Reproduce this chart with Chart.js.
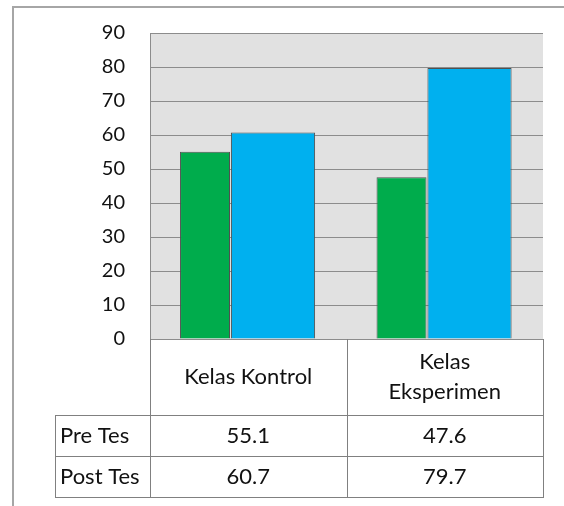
<!DOCTYPE html>
<html>
<head>
<meta charset="utf-8">
<script src="https://cdn.jsdelivr.net/npm/chart.js@4"></script>
<style>
  html, body { margin: 0; padding: 0; background: #fff; }
  #wrap { position: relative; width: 564px; height: 506px; }
  #frame { position: absolute; left: 12px; top: 6px; width: 560px; height: 510px;
           border-left: 2px solid #a6a6a6; border-top: 2px solid #a6a6a6; box-sizing: border-box; }
  canvas { position: absolute; left: 0; top: 0; }
</style>
</head>
<body>
<div id="wrap">
  <div id="frame"></div>
  <canvas id="c" width="564" height="506"></canvas>
</div>
<script>
const categories = [['Kelas Kontrol'], ['Kelas', 'Eksperimen']];
const seriesNames = ['Pre Tes', 'Post Tes'];
const preTes = [55.1, 47.6];
const postTes = [60.7, 79.7];
const yMin = 0, yMax = 90, yStep = 10;

const FONT = 'Lato, "Open Sans", sans-serif';

const tablePlugin = {
  id: 'tablePlugin',
  beforeDraw(chart) {
    const { ctx, chartArea: a } = chart;
    ctx.save();
    ctx.fillStyle = '#e1e1e1';
    ctx.fillRect(a.left, a.top, a.right - a.left, a.bottom - a.top);
    ctx.restore();
  },
  afterDraw(chart) {
    const { ctx, chartArea: a } = chart;
    const xs = chart.scales.x;
    const n = categories.length;
    const catW = (a.right - a.left) / n;
    const rowCat = 76, rowH = 41;
    const tableLeft = 55;
    const top = a.bottom;
    const y1 = top + rowCat;
    const rows = [preTes, postTes];
    const bottom = y1 + rowH * rows.length;
    ctx.save();
    ctx.strokeStyle = '#808080';
    ctx.lineWidth = 1;
    ctx.beginPath();
    for (let i = 0; i <= n; i++) {
      const x = Math.round(a.left + catW * i) + 0.5;
      ctx.moveTo(x, top); ctx.lineTo(x, bottom);
    }
    ctx.moveTo(tableLeft + 0.5, y1); ctx.lineTo(tableLeft + 0.5, bottom);
    for (let r = 0; r <= rows.length; r++) {
      const y = Math.round(y1 + rowH * r) + 0.5;
      ctx.moveTo(tableLeft, y); ctx.lineTo(Math.round(a.right) + 1, y);
    }
    ctx.stroke();

    ctx.fillStyle = '#111';
    ctx.font = '22px ' + FONT;
    ctx.textBaseline = 'middle';
    ctx.textAlign = 'center';
    const lh = 30;
    categories.forEach((lines, i) => {
      const cx = xs.getPixelForValue(i);
      const cy = top + rowCat / 2;
      lines.forEach((ln, k) => {
        ctx.fillText(ln, cx, cy + (k - (lines.length - 1) / 2) * lh);
      });
    });
    rows.forEach((vals, r) => {
      const cy = y1 + rowH * r + rowH / 2;
      ctx.textAlign = 'left';
      ctx.fillText(seriesNames[r], tableLeft + 5, cy);
      ctx.textAlign = 'center';
      vals.forEach((v, i) => ctx.fillText(v.toFixed(1), xs.getPixelForValue(i), cy));
    });
    ctx.restore();
  }
};

new Chart(document.getElementById('c'), {
  type: 'bar',
  data: {
    labels: categories,
    datasets: [
      { label: seriesNames[0], data: preTes, backgroundColor: '#00ac4c', borderColor: '#505050',
        borderWidth: 1, categoryPercentage: 0.88, barPercentage: 0.578 },
      { label: seriesNames[1], data: postTes, backgroundColor: '#00b0ef', borderColor: '#505050',
        borderWidth: 1, categoryPercentage: 0.504, barPercentage: 1.7 }
    ]
  },
  options: {
    responsive: false,
    animation: false,
    layout: { padding: { left: 0, right: 21, top: 33, bottom: 167 } },
    plugins: { legend: { display: false }, tooltip: { enabled: false } },
    scales: {
      x: {
        display: true,
        grid: { display: false, drawTicks: false },
        border: { display: false },
        ticks: { display: false }
      },
      y: {
        min: yMin, max: yMax,
        ticks: { stepSize: yStep, padding: 0, color: '#111', font: { family: FONT, size: 20 } },
        grid: { color: '#8c8c8c', lineWidth: 1, drawTicks: true, tickLength: 25, tickColor: 'rgba(0,0,0,0)' },
        border: { display: true, color: '#8c8c8c', width: 1 },
        afterFit(s) { s.width = 150; }
      }
    }
  },
  plugins: [tablePlugin]
});
</script>
</body>
</html>
